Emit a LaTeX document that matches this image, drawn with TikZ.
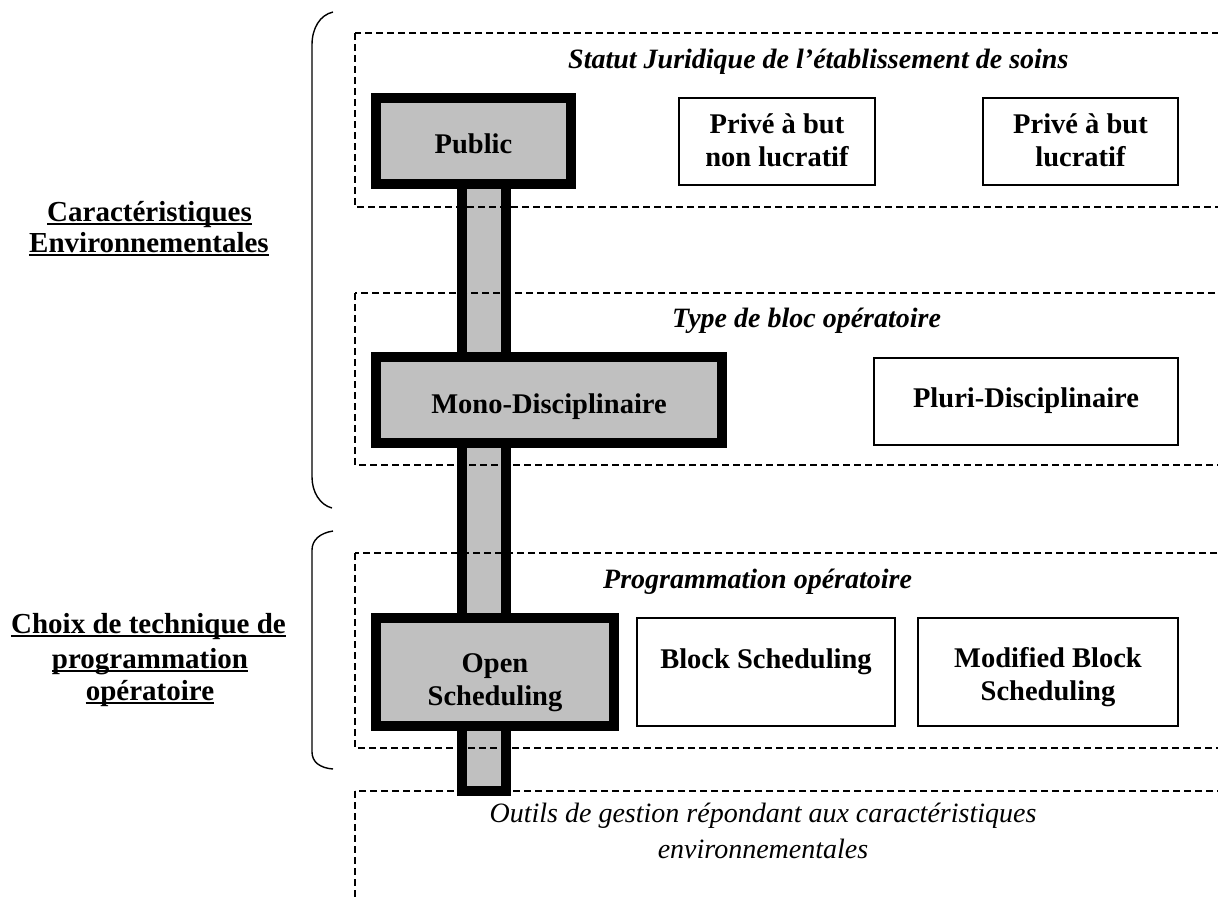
\documentclass[tikz,border=0pt]{standalone}
\usepackage{fontspec}
\setmainfont{Liberation Serif}
\usetikzlibrary{backgrounds}
\definecolor{boxgray}{HTML}{C0C0C0}
\newcommand\mtl[1]{\begin{tabular}[t]{@{}c@{}}#1\end{tabular}}
\newcommand\bxfont{\fontsize{28.5}{33}\selectfont\bfseries}
\newcommand\lblfont{\fontsize{29}{33}\selectfont\bfseries}
\newcommand\ttlfont{\fontsize{28}{33}\selectfont\bfseries\itshape}
\newcommand\otlfont{\fontsize{28}{36}\selectfont\itshape}
\begin{document}
\begin{tikzpicture}[x=1pt,y=-1pt,
  thinbox/.style={draw, line width=1.5pt, fill=white, inner sep=0pt, font=\bxfont},
  thickbox/.style={draw, line width=10pt, fill=boxgray, inner sep=0pt, font=\bxfont},
  pillar/.style={draw, line width=10pt, fill=boxgray},
  dashbox/.style={draw, line width=1.3pt, dash pattern=on 7pt off 4pt},
  brace/.style={draw, line width=1.4pt},
  ttl/.style={font=\ttlfont, inner sep=0pt, anchor=base west},
  lbl/.style={font=\lblfont, inner sep=0pt, anchor=base},
  uline/.style={line width=2pt}]
\useasboundingbox (0,0) rectangle (1218,898);
\clip (0,0) rectangle (1218,898);

% boxes
\node[thickbox, minimum width=195, minimum height=86, text height=24pt, text depth=0pt] (pub) at (473.5,141) {Public};
\node[thinbox, minimum width=196, minimum height=87, text height=0pt, text depth=17pt] (pnl) at (777,141.5) {\mtl{Privé à but\\non lucratif}};
\node[thinbox, minimum width=195, minimum height=87, text height=0pt, text depth=17pt] (pl) at (1080.5,141.5) {\mtl{Privé à but\\lucratif}};
\node[thickbox, minimum width=346, minimum height=86, text height=26pt, text depth=0pt] (mono) at (549,400) {Mono-Disciplinaire};
\node[thinbox, minimum width=304, minimum height=87, text height=11pt, text depth=0pt] (pluri) at (1026,401.5) {Pluri-Disciplinaire};
\node[thickbox, minimum width=238, minimum height=108, text height=0pt, text depth=0pt] (open) at (495,672) {\mtl{Open\\Scheduling}};
\node[thinbox, minimum width=258, minimum height=108, text height=0pt, text depth=8pt] (block) at (766,672) {Block Scheduling};
\node[thinbox, minimum width=260, minimum height=108, text height=0pt, text depth=10pt] (mod) at (1048,672) {\mtl{Modified Block\\Scheduling}};

% titles
\node[ttl] (t1) at (568,68) {Statut Juridique de l’établissement de soins};
\node[ttl] (t2) at (672,327) {Type de bloc opératoire};
\node[ttl] (t3) at (603,588) {Programmation opératoire};
\node[font=\otlfont, inner sep=0pt, anchor=base] (t4) at (763,822) {\mtl{Outils de gestion répondant aux caractéristiques\\environnementales}};

% left labels
\node[lbl] (l1) at (149.5,221) {Caractéristiques};
\node[lbl] (l2) at (149,252) {Environnementales};
\node[lbl] (l3) at (148.5,633) {Choix de technique de};
\node[lbl] (l4) at (150,668) {programmation};
\node[lbl] (l5) at (150,700) {opératoire};
\foreach \n in {l1,l2,l3,l4,l5}
  \draw[uline] ([yshift=-3pt]\n.base west) -- ([yshift=-3pt]\n.base east);

% braces
\draw[brace] (333,12) .. controls (320,15) and (312,28) .. (312,45) -- (312,477) .. controls (312,492) and (320,505) .. (332,508);
\draw[brace] (333,531) .. controls (320,533) and (312,540) .. (312,550) -- (312,752) .. controls (312,762) and (320,768) .. (333,769);

\begin{scope}[on background layer]
  \coordinate (pilbot) at (484,791);
  \path (pub.center -| pilbot) coordinate (piltop);
  \draw[pillar] ([xshift=-22pt]piltop) rectangle ([xshift=22pt]pilbot);
  \draw[dashbox] (355,33) rectangle (1240,207);
  \draw[dashbox] (355,293) rectangle (1240,465);
  \draw[dashbox] (355,553) rectangle (1240,748);
  \draw[dashbox] (355,791) rectangle (1240,940);
\end{scope}
\end{tikzpicture}
\end{document}
